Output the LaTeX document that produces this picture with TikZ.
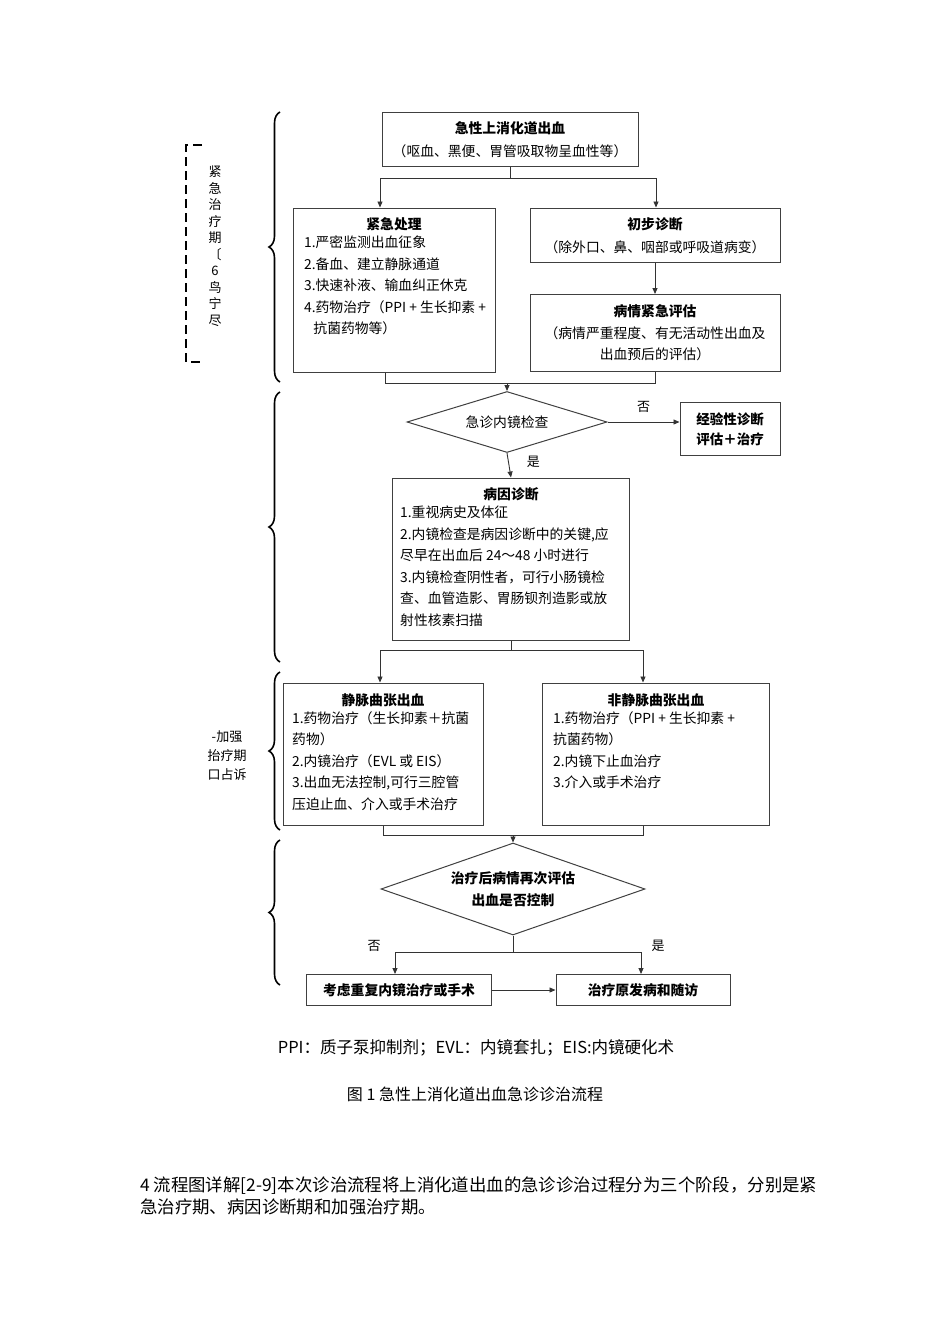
\documentclass[tikz,border=0pt]{standalone}
\usepackage{fontspec}
\setmainfont{Liberation Serif}
\newfontfamily\cjk{Noto Sans CJK SC}
\usetikzlibrary{arrows.meta,shapes.geometric,decorations.pathreplacing}
\begin{document}
\begin{tikzpicture}[x=1pt,y=-1pt,
  bx/.style={draw=black!75,line width=1pt,inner sep=0pt},
  tx/.style={font=\cjk\fontsize{13.8}{21.5}\selectfont,inner sep=0pt,align=left,anchor=north west},
  ttl/.style={font=\cjk\bfseries\fontsize{13.8}{21.5}\selectfont,inner sep=0pt},
  dm/.style={draw=black!75,line width=1pt,diamond,aspect=3.3,inner sep=0pt},
  ar/.style={-{Triangle[length=6pt,width=5pt]},line width=0.9pt,draw=black!80},
  ln/.style={line width=0.9pt,draw=black!80},
  br/.style={decorate,decoration={brace,amplitude=11pt},line width=1.6pt},
  lb/.style={font=\cjk\fontsize{13}{18}\selectfont,inner sep=0pt}]
\useasboundingbox (0,0) rectangle (950,1344);
% boxes
\node[bx,minimum width=256,minimum height=54] (top) at (510,139) {};
\node[ttl] (topt) at (510,128) {急性上消化道出血};
\node[lb,font=\cjk\fontsize{13.8}{18}\selectfont] (tops) at (510,151) {（呕血、黑便、胃管吸取物呈血性等）};
\node[bx,minimum width=202,minimum height=164] (jj) at (394,290) {};
\node[ttl] (jjt) at (394,224) {紧急处理};
\node[tx] (jjx) at (304,236) {1.严密监测出血征象\\2.备血、建立静脉通道\\3.快速补液、输血纠正休克\\4.药物治疗（PPI + 生长抑素 +\\\ \ \ 抗菌药物等）};
\node[bx,minimum width=250,minimum height=54] (cb) at (655,235) {};
\node[ttl] (cbt) at (655,224) {初步诊断};
\node[lb,font=\cjk\fontsize{13.8}{18}\selectfont] (cbs) at (655,247) {（除外口、鼻、咽部或呼吸道病变）};
\node[bx,minimum width=250,minimum height=77] (pq) at (655,333) {};
\node[ttl] (pqt) at (655,311) {病情紧急评估};
\node[lb,font=\cjk\fontsize{13.8}{21.5}\selectfont,align=center] (pqs) at (655,344) {（病情严重程度、有无活动性出血及\\出血预后的评估）};
\node[dm,minimum width=200,minimum height=61] (d1) at (507,422) {};
\node[ttl,font=\cjk\fontsize{13.8}{18}\selectfont] (d1t) at (507,422) {急诊内镜检查};
\node[bx,minimum width=100,minimum height=53] (jy) at (730,429) {};
\node[ttl,align=center,font=\cjk\bfseries\fontsize{13.5}{20}\selectfont] (jyt) at (730,429) {经验性诊断\\评估＋治疗};
\node[bx,minimum width=237,minimum height=162] (by) at (511,559) {};
\node[ttl] (byt) at (511,494) {病因诊断};
\node[tx] (byx) at (400,506) {1.重视病史及体征\\2.内镜检查是病因诊断中的关键,应\\尽早在出血后 24～48 小时进行\\3.内镜检查阴性者，可行小肠镜检\\查、血管造影、胃肠钡剂造影或放\\射性核素扫描};
\node[bx,minimum width=200,minimum height=142] (jm) at (383,754) {};
\node[ttl] (jmt) at (383,700) {静脉曲张出血};
\node[tx] (jmx) at (292,711) {1.药物治疗（生长抑素＋抗菌\\药物）\\2.内镜治疗（EVL 或 EIS）\\3.出血无法控制,可行三腔管\\压迫止血、介入或手术治疗};
\node[bx,minimum width=227,minimum height=142] (fj) at (656,754) {};
\node[ttl] (fjt) at (656,700) {非静脉曲张出血};
\node[tx] (fjx) at (553,711) {1.药物治疗（PPI + 生长抑素 +\\抗菌药物）\\2.内镜下止血治疗\\3.介入或手术治疗};
\node[dm,minimum width=264,minimum height=92,aspect=2.9] (d2) at (513,889) {};
\node[ttl,align=center,font=\cjk\bfseries\fontsize{13.8}{22}\selectfont] (d2t) at (513,889) {治疗后病情再次评估\\出血是否控制};
\node[bx,minimum width=185,minimum height=31] (kl) at (399,990) {};
\node[ttl] (klt) at (399,990) {考虑重复内镜治疗或手术};
\node[bx,minimum width=174,minimum height=31] (zl) at (643,990) {};
\node[ttl] (zlt) at (643,990) {治疗原发病和随访};
% connectors
\coordinate (s1) at (510,178);
\draw[ln] (top.south) -- (s1);
\draw[ar] (s1) -| (jj.north -| 380,0);
\draw[ar] (s1) -| (cb.north -| 656,0);
\draw[ar] (cb) -- (pq);
\coordinate (m1) at (507,383);
\draw[ln] (jj.south -| 385,0) |- (m1);
\draw[ln] (pq.south) |- (m1);
\draw[ar] (m1) -- (d1.north);
\draw[ar] (d1.east) -- (jy.west |- d1.east) node[lb,midway,above=9pt] (no1) {否};
\draw[ar] (d1.south) -- (by.north) node[lb,pos=0.35,right=18pt] (yes1) {是};
\coordinate (s2) at (511,650);
\draw[ln] (by.south) -- (s2);
\draw[ar] (s2) -| (jm.north -| 380,0);
\draw[ar] (s2) -| (fj.north -| 643,0);
\coordinate (m2) at (513,835);
\draw[ln] (jm.south -| 383,0) |- (m2);
\draw[ln] (fj.south -| 643,0) |- (m2);
\draw[ar] (m2) -- (d2.north);
\coordinate (s3) at (513,952);
\draw[ln] (d2.south) -- (s3);
\draw[ar] (s3) -| (kl.north -| 395,0);
\draw[ar] (s3) -| (zl.north -| 641,0);
\draw[ar] (kl.east) -- (zl.west);
\node[lb] (no2) at (374,946) {否};
\node[lb] (yes2) at (658,946) {是};
% braces
\draw[br] (280,382) -- (280,112);
\draw[br] (280,662) -- (280,392);
\draw[br] (280,830) -- (280,672);
\draw[br] (280,985) -- (280,840);
% left labels
\draw[dashed,line width=1.3pt,dash pattern=on 9pt off 5pt] (202,145) -- (186,145) -- (186,362) -- (202,362);
\node[lb,align=center,font=\cjk\fontsize{13}{16.5}\selectfont] (ph1) at (215,246) {紧\\急\\治\\疗\\期\\〔\\6\\鸟\\宁\\尽};
\node[lb,align=center,font=\cjk\fontsize{13}{19}\selectfont] (ph2) at (227,756) {-加强\\抬疗期\\口占诉};
% bottom text
\node[lb,font=\cjk\fontsize{16.5}{18}\selectfont] (fn) at (476,1048) {PPI：质子泵抑制剂；EVL：内镜套扎；EIS:内镜硬化术};
\node[lb,font=\cjk\fontsize{16}{18}\selectfont] (cap) at (475,1094) {图 1 急性上消化道出血急诊诊治流程};
\node[lb,font=\cjk\fontsize{17.4}{22}\selectfont,anchor=north west,align=left] (par) at (140,1177) {4 流程图详解[2-9]本次诊治流程将上消化道出血的急诊诊治过程分为三个阶段，分别是紧\\急治疗期、病因诊断期和加强治疗期。};
\end{tikzpicture}
\end{document}
